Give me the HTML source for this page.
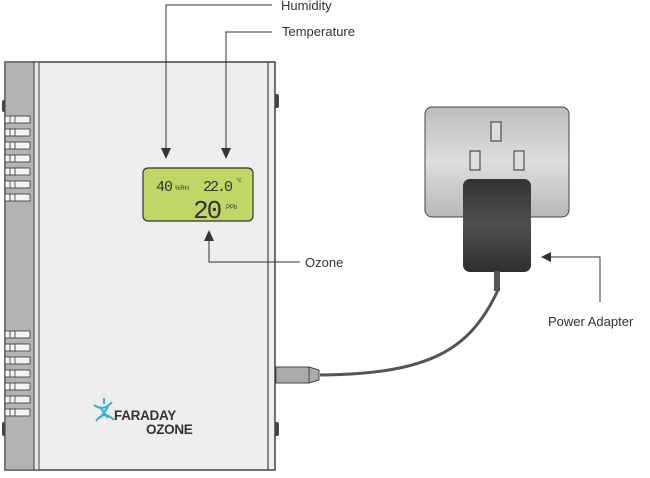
<!DOCTYPE html>
<html><head><meta charset="utf-8"><style>
html,body{margin:0;padding:0;background:#fff;}
svg{display:block;}
</style></head><body>
<svg width="650" height="478" viewBox="0 0 650 478" xmlns="http://www.w3.org/2000/svg" style="font-family:'Liberation Sans',sans-serif">
<defs>
<linearGradient id="og" x1="0" y1="0" x2="0" y2="1">
<stop offset="0" stop-color="#bdbdbd"/><stop offset="0.5" stop-color="#dedede"/><stop offset="1" stop-color="#b8b8b8"/>
</linearGradient>
<linearGradient id="ag" x1="0" y1="0" x2="0" y2="1">
<stop offset="0" stop-color="#333"/><stop offset="0.5" stop-color="#4e4e4e"/><stop offset="1" stop-color="#2e2e2e"/>
</linearGradient>
</defs>
<rect x="2" y="100" width="5" height="12" rx="2" fill="#444"/>
<rect x="2" y="422" width="5" height="14" rx="2" fill="#444"/>
<rect x="274" y="94" width="5" height="14" rx="2" fill="#444"/>
<rect x="274" y="422" width="5" height="14" rx="2" fill="#444"/>
<rect x="5" y="62" width="270" height="408" fill="#eeeeee" stroke="#444" stroke-width="1.5"/>
<rect x="5" y="62" width="29" height="408" fill="#b3b3b3" stroke="#444" stroke-width="1"/>
<rect x="34" y="62" width="5" height="408" fill="#e6e6e6" stroke="#444" stroke-width="1"/>
<line x1="268" y1="62" x2="268" y2="470" stroke="#444" stroke-width="1.2"/>
<g fill="#f4f4f4" stroke="#333" stroke-width="0.8">
<g id="v">
<rect x="5" y="116" width="25" height="7"/><line x1="10" y1="116" x2="10" y2="123"/><line x1="15" y1="116" x2="15" y2="123"/>
</g>
<use href="#v" y="13"/><use href="#v" y="26"/><use href="#v" y="39"/><use href="#v" y="52"/><use href="#v" y="65"/><use href="#v" y="78"/>
<use href="#v" y="215"/><use href="#v" y="228"/><use href="#v" y="241"/><use href="#v" y="254"/><use href="#v" y="267"/><use href="#v" y="280"/><use href="#v" y="293"/>
</g>
<rect x="143" y="168" width="110" height="53" rx="5" fill="#c0d665" stroke="#333" stroke-width="1.2"/>
<text x="156" y="191" font-size="15" fill="#333" style="font-family:'Liberation Mono',monospace;letter-spacing:-1px">40</text>
<text x="175" y="190" font-size="6" fill="#333">%RH</text>
<text x="203" y="191" font-size="15" fill="#333" style="font-family:'Liberation Mono',monospace;letter-spacing:-2px">22.0</text>
<text x="236" y="182" font-size="6" fill="#333">°c</text>
<text x="193" y="218" font-size="26" fill="#333" style="font-family:'Liberation Mono',monospace;letter-spacing:-2px">20</text>
<text x="226" y="209" font-size="6" fill="#333">PPb</text>
<g stroke="#3aaed0" stroke-width="2" fill="none">
<path d="M94 405 Q104 412 112 402"/><path d="M96 421 Q104 410 114 420"/><path d="M100 407 L108 418"/><path d="M108 407 L100 418"/><path d="M104 398 L104 404"/>
</g>
<text x="114" y="420" font-size="13.5" fill="#333" font-weight="bold" letter-spacing="-0.3">FARADAY</text>
<text x="146" y="434" font-size="13.5" fill="#333" font-weight="bold" letter-spacing="-0.3">OZONE</text>
<g stroke="#333" stroke-width="1" fill="none">
<polyline points="272,5 166,5 166,150"/>
<polyline points="272,32 226,32 226,150"/>
<polyline points="300,262 209,262 209,240"/>
<polyline points="550,257 600,257 600,302"/>
</g>
<g fill="#333">
<polygon points="161,148 171,148 166,159"/>
<polygon points="221,148 231,148 226,159"/>
<polygon points="204,241 214,241 209,230"/>
<polygon points="551,252 551,262 541,257"/>
</g>
<g font-size="13" fill="#333">
<text x="281" y="10">Humidity</text>
<text x="282" y="36">Temperature</text>
<text x="305" y="267">Ozone</text>
<text x="548" y="326">Power Adapter</text>
</g>
<rect x="425" y="107" width="144" height="110" rx="7" fill="url(#og)" stroke="#444" stroke-width="1"/>
<rect x="491" y="122" width="10" height="19" fill="#ddd" stroke="#333"/>
<rect x="470" y="151" width="10" height="19" fill="#ddd" stroke="#333"/>
<rect x="514" y="151" width="10" height="19" fill="#ddd" stroke="#333"/>
<rect x="463" y="179" width="68" height="93" rx="7" fill="url(#ag)"/>
<rect x="494" y="271" width="6" height="20" fill="#555"/>
<path d="M498 290 C470 350 430 374 320 375" stroke="#555" stroke-width="3" fill="none"/>
<rect x="276" y="367" width="33" height="16" fill="#aaa" stroke="#444"/>
<polygon points="309,367 319,370 319,380 309,383" fill="#aaa" stroke="#444"/>
</svg>
</body></html>
